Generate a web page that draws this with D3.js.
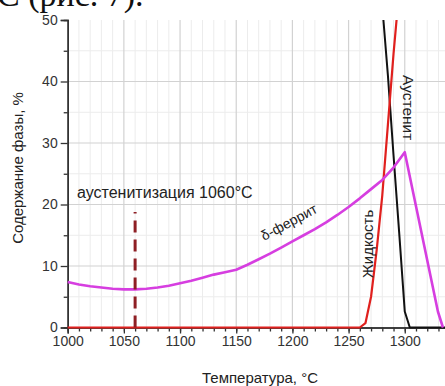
<!DOCTYPE html>
<html>
<head>
<meta charset="utf-8">
<script src="https://cdn.jsdelivr.net/npm/d3@7/dist/d3.min.js"></script>
<style>
  html, body { margin: 0; padding: 0; background: #fff; overflow: hidden; }
  svg { display: block; }
  text { font-family: "Liberation Sans", Arial, sans-serif; fill: #222; }
</style>
</head>
<body>
<svg id="chart" width="445" height="386"></svg>
<script>
// Phase fractions vs temperature
const deltaT = [1000,1010,1020,1030,1040,1050,1060,1070,1080,1090,1100,1110,1120,1130,1140,1150,1160,1170,1180,1190,1200,1210,1220,1230,1240,1250,1260,1270,1280,1290,1300,1329.5,1334];
const deltaV = [7.4,7.0,6.7,6.5,6.3,6.2,6.2,6.3,6.5,6.8,7.2,7.6,8.1,8.6,9.0,9.4,10.2,11.1,12.0,13.0,14.0,15.0,16.0,17.1,18.3,19.6,21.0,22.5,24.0,26.0,28.5,2.6,0];

const liquidT = [1000,1260,1265,1270,1275,1280,1285,1290,1292.7];
const liquidV = [0,0,0.7,5.0,12.6,21.5,33.0,44.5,50];

const austT = [1281,1285,1290,1295,1300,1304.5,1340];
const austV = [50,41,28,15.5,2.6,0,0];

const xMajor = [1000,1050,1100,1150,1200,1250,1300];
const yMajor = [0,10,20,30,40,50];
const austenitizationT = 1060;
const austenitizationTop = 18.8;

const svg = d3.select("#chart");

const x = d3.scaleLinear().domain([1000, 1340]).range([67.7, 449.7]);
const y = d3.scaleLinear().domain([0, 50]).range([327.5, 20]);

// heading fragment from the surrounding page
svg.append("text")
  .attr("x", -3).attr("y", 6)
  .style("font-family", "'Liberation Serif', 'Times New Roman', serif")
  .style("font-size", "34px").style("fill", "#111")
  .text("С (рис. 7).");

// grid
const grid = svg.append("g");
const xMinor = d3.range(1010, 1341, 10).filter(v => v % 50 !== 0);
const yMinor = d3.range(5, 50, 10);
grid.selectAll(".vminor").data(xMinor).join("line")
  .attr("x1", d => x(d)).attr("x2", d => x(d))
  .attr("y1", y(50)).attr("y2", y(0))
  .attr("stroke", "#ececec").attr("stroke-width", 1);
grid.selectAll(".hminor").data(yMinor).join("line")
  .attr("x1", x(1000)).attr("x2", 445)
  .attr("y1", d => y(d)).attr("y2", d => y(d))
  .attr("stroke", "#ececec").attr("stroke-width", 1);
grid.selectAll(".vmajor").data(xMajor.slice(1)).join("line")
  .attr("x1", d => x(d)).attr("x2", d => x(d))
  .attr("y1", y(50)).attr("y2", y(0))
  .attr("stroke", "#d2d2d2").attr("stroke-width", 1.2);
grid.selectAll(".hmajor").data(yMajor.slice(1, -1)).join("line")
  .attr("x1", x(1000)).attr("x2", 445)
  .attr("y1", d => y(d)).attr("y2", d => y(d))
  .attr("stroke", "#d2d2d2").attr("stroke-width", 1.2);

// axes
const xAxis = d3.axisBottom(x).tickValues(xMajor).tickSize(6).tickPadding(3).tickFormat(d3.format("d"));
const xAxisMinor = d3.axisBottom(x).tickValues(d3.range(1010, 1341, 10)).tickSize(4).tickFormat("");
const yAxis = d3.axisLeft(y).tickValues(yMajor).tickSize(7).tickPadding(3);
const yAxisMinor = d3.axisLeft(y).tickValues(yMinor).tickSize(4).tickFormat("");

function styleAxis(g) {
  g.select(".domain").attr("stroke", "#333").attr("stroke-width", 1.5);
  g.selectAll(".tick line").attr("stroke", "#333").attr("stroke-width", 1.3);
  g.selectAll(".tick text").style("font-size", "14px").style("fill", "#333")
    .style("font-family", "'Liberation Sans', Arial, sans-serif");
}
svg.append("g").attr("transform", `translate(0,${y(0)})`).call(xAxisMinor).call(styleAxis);
svg.append("g").attr("transform", `translate(0,${y(0)})`).call(xAxis).call(styleAxis);
svg.append("g").attr("transform", `translate(${x(1000)},0)`).call(yAxisMinor).call(styleAxis);
svg.append("g").attr("transform", `translate(${x(1000)},0)`).call(yAxis).call(styleAxis);

// curves
const line = d3.line().x(d => x(d[0])).y(d => y(d[1]));
const zip = (a, b) => a.map((v, i) => [v, b[i]]);

svg.append("path").datum(zip(austT, austV))
  .attr("d", line).attr("fill", "none")
  .attr("stroke", "#111").attr("stroke-width", 2).attr("stroke-linejoin", "round");
svg.append("path").datum(zip(liquidT, liquidV))
  .attr("d", line).attr("fill", "none")
  .attr("stroke", "#e0201e").attr("stroke-width", 2.2).attr("stroke-linejoin", "round");
svg.append("path").datum(zip(deltaT, deltaV))
  .attr("d", line).attr("fill", "none")
  .attr("stroke", "#d63ee0").attr("stroke-width", 2.6).attr("stroke-linejoin", "round");

// austenitization temperature marker
svg.append("line")
  .attr("x1", x(austenitizationT)).attr("x2", x(austenitizationT))
  .attr("y1", y(0)).attr("y2", y(austenitizationTop))
  .attr("stroke", "#8e1f24").attr("stroke-width", 3)
  .attr("stroke-dasharray", "12,7");

// labels
svg.append("text")
  .attr("x", 77).attr("y", 198)
  .style("font-size", "16px")
  .text("аустенитизация 1060°C");

svg.append("text")
  .attr("transform", "translate(264,241) rotate(-28)")
  .style("font-size", "14px")
  .text("δ-феррит");

svg.append("text")
  .attr("transform", "translate(373,278) rotate(-90)")
  .style("font-size", "15px")
  .text("Жидкость");

svg.append("text")
  .attr("transform", "translate(403,75) rotate(90)")
  .style("font-size", "15.5px")
  .text("Аустенит");

svg.append("text")
  .attr("transform", "translate(23,168) rotate(-90)")
  .attr("text-anchor", "middle")
  .style("font-size", "15px")
  .text("Содержание фазы, %");

svg.append("text")
  .attr("x", 260).attr("y", 383)
  .attr("text-anchor", "middle")
  .style("font-size", "15px")
  .text("Температура, °C");
</script>
</body>
</html>
